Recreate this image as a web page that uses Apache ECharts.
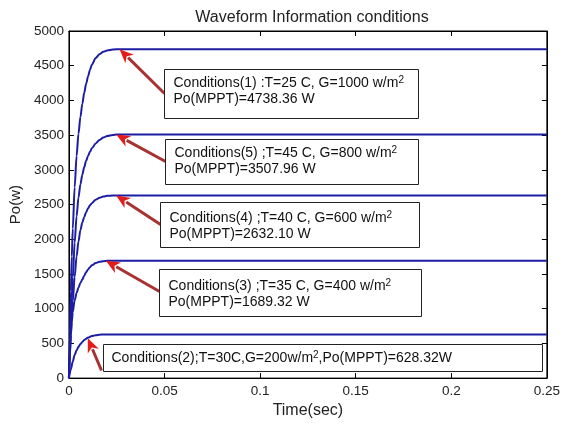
<!DOCTYPE html>
<html><head><meta charset="utf-8">
<script src="https://cdn.jsdelivr.net/npm/echarts@6/dist/echarts.min.js"></script>
<style>html,body{margin:0;padding:0;background:#fff}#c{width:563px;height:424px}</style>
</head><body><div id="c"></div>
<script>
// ---- data ----
const titleText = 'Waveform Information conditions';
const xName = 'Time(sec)';
const yName = 'Po(w)';
const xTicks = [0, 0.05, 0.1, 0.15, 0.2, 0.25];
const yTicks = [0, 500, 1000, 1500, 2000, 2500, 3000, 3500, 4000, 4500, 5000];

// Condition 1 : T=25C, G=1000
const t1 = [0, 0.0005, 0.001, 0.0015, 0.002, 0.003, 0.004, 0.005, 0.006, 0.007, 0.008, 0.009, 0.010, 0.011, 0.012, 0.014, 0.016, 0.018, 0.020, 0.023, 0.026, 0.25];
const p1 = [0, 650, 1250, 1750, 2150, 2750, 3200, 3520, 3760, 3950, 4110, 4240, 4345, 4440, 4515, 4610, 4665, 4700, 4720, 4733, 4738.36, 4738.36];
// Condition 5 : T=45C, G=800
const t5 = [0, 0.0005, 0.001, 0.0015, 0.002, 0.003, 0.004, 0.005, 0.006, 0.007, 0.008, 0.009, 0.010, 0.011, 0.012, 0.014, 0.016, 0.018, 0.020, 0.023, 0.025, 0.25];
const p5 = [0, 420, 800, 1150, 1450, 1950, 2330, 2600, 2790, 2930, 3040, 3130, 3200, 3260, 3310, 3380, 3430, 3465, 3488, 3503, 3507.96, 3507.96];
// Condition 4 : T=40C, G=600
const t4 = [0, 0.0005, 0.001, 0.0015, 0.002, 0.003, 0.004, 0.005, 0.006, 0.007, 0.008, 0.009, 0.010, 0.011, 0.012, 0.014, 0.016, 0.018, 0.020, 0.023, 0.025, 0.25];
const p4 = [0, 330, 630, 890, 1110, 1460, 1750, 1970, 2130, 2240, 2320, 2390, 2445, 2490, 2520, 2570, 2598, 2615, 2625, 2631, 2632.10, 2632.10];
// Condition 3 : T=35C, G=400
const t3 = [0, 0.0005, 0.001, 0.0015, 0.002, 0.003, 0.004, 0.005, 0.006, 0.007, 0.008, 0.009, 0.010, 0.011, 0.012, 0.014, 0.016, 0.018, 0.020, 0.25];
const p3 = [0, 360, 620, 810, 950, 1120, 1225, 1305, 1370, 1420, 1475, 1525, 1565, 1598, 1625, 1658, 1676, 1685, 1689.32, 1689.32];
// Condition 2 : T=30C, G=200
const t2 = [0, 0.001, 0.002, 0.003, 0.004, 0.005, 0.006, 0.007, 0.008, 0.009, 0.010, 0.012, 0.014, 0.016, 0.018, 0.25];
const p2 = [0, 125, 240, 334, 400, 450, 490, 520, 548, 568, 584, 605, 618, 625, 628.32, 628.32];

// annotation texts
const annoLine1 = [
  'Conditions(1) :T=25 C, G=1000 w/m',
  'Conditions(5) ;T=45 C, G=800 w/m',
  'Conditions(4) ;T=40 C, G=600 w/m',
  'Conditions(3) ;T=35 C, G=400 w/m',
  'Conditions(2);T=30C,G=200w/m'
];
const annoLine2 = [
  'Po(MPPT)=4738.36 W',
  'Po(MPPT)=3507.96 W',
  'Po(MPPT)=2632.10 W',
  'Po(MPPT)=1689.32 W',
  ',Po(MPPT)=628.32W'
];
// arrow tips (data coordinates, on the curves)
const tipT = [0.0265, 0.0247, 0.0247, 0.0193, 0.0099];
const tipP = [4738.36, 3507.96, 2632.10, 1689.32, 575];

// ---- layout (annotation boxes: top-left in data coords, size in px) ----
const boxLayout = [
  {t: 0.0496, p: 4456, w: 254, h: 49, tx: 9, ty: 6, tailDx: 0, tailDy: 24, single: false},
  {t: 0.0501, p: 3438, w: 253, h: 45, tx: 9, ty: 6, tailDx: 0, tailDy: 22, single: false},
  {t: 0.0475, p: 2536, w: 259, h: 45, tx: 9, ty: 8, tailDx: 0, tailDy: 22, single: false},
  {t: 0.0470, p: 1576, w: 262, h: 47, tx: 9, ty: 9, tailDx: 0, tailDy: 22, single: false},
  {t: 0.0177, p: 487,  w: 439, h: 27, tx: 8, ty: 6, tailDx: -2, tailDy: 26, single: true}
];

const FONT = 'Liberation Sans, Arial, sans-serif';
const LINE_COLOR = '#1c1ca4';
const TEXT_COLOR = '#222';

const chart = echarts.init(document.getElementById('c'), null, {renderer: 'canvas'});

function zip(t, p) { return t.map((v, i) => [v, p[i]]); }
function mkSeries(t, p) {
  return {
    type: 'line', data: zip(t, p), showSymbol: false, smooth: 0.3, smoothMonotone: 'x',
    lineStyle: {color: LINE_COLOR, width: 2}, itemStyle: {color: LINE_COLOR},
    animation: false, silent: true
  };
}

const axisCommon = {
  axisLine: {show: true, onZero: false, lineStyle: {color: '#000', width: 1}},
  axisTick: {show: true, inside: true, length: 5, lineStyle: {color: '#000'}},
  splitLine: {show: false}
};

chart.setOption({
  backgroundColor: '#fff',
  animation: false,
  title: {
    text: titleText, left: 307, top: 5, textAlign: 'center',
    textStyle: {fontFamily: FONT, fontSize: 16, fontWeight: 'normal', color: TEXT_COLOR}
  },
  grid: {left: 68, right: 16, top: 31, bottom: 44, show: true, borderColor: '#000', borderWidth: 1, backgroundColor: '#fff'},
  xAxis: [
    Object.assign({}, axisCommon, {
      type: 'value', min: xTicks[0], max: xTicks[xTicks.length - 1], interval: xTicks[1] - xTicks[0], position: 'bottom',
      axisLabel: {margin: 6, color: TEXT_COLOR, fontSize: 13.5, fontFamily: FONT, formatter: v => String(+v.toFixed(2))},
      name: xName, nameLocation: 'middle', nameGap: 23,
      nameTextStyle: {fontFamily: FONT, fontSize: 16, color: TEXT_COLOR}
    }),
    Object.assign({}, axisCommon, {
      type: 'value', min: xTicks[0], max: xTicks[xTicks.length - 1], interval: xTicks[1] - xTicks[0], position: 'top',
      axisLabel: {show: false}
    })
  ],
  yAxis: [
    Object.assign({}, axisCommon, {
      type: 'value', min: yTicks[0], max: yTicks[yTicks.length - 1], interval: yTicks[1] - yTicks[0], position: 'left',
      axisLabel: {margin: 5, color: TEXT_COLOR, fontSize: 13.5, fontFamily: FONT, formatter: v => String(v)},
      name: yName, nameLocation: 'middle', nameGap: 42,
      nameTextStyle: {fontFamily: FONT, fontSize: 15, color: TEXT_COLOR}
    }),
    Object.assign({}, axisCommon, {
      type: 'value', min: yTicks[0], max: yTicks[yTicks.length - 1], interval: yTicks[1] - yTicks[0], position: 'right',
      axisLabel: {show: false}
    })
  ],
  series: [mkSeries(t1, p1), mkSeries(t5, p5), mkSeries(t4, p4), mkSeries(t3, p3), mkSeries(t2, p2)]
});

// ---- annotations ----
const graphics = [];
const rich = {
  a: {fontFamily: FONT, fontSize: 14, color: '#111', lineHeight: 16},
  s: {fontFamily: FONT, fontSize: 10, color: '#111', verticalAlign: 'top'}
};
boxLayout.forEach((b, i) => {
  const tl = chart.convertToPixel({gridIndex: 0}, [b.t, b.p]);
  const x = Math.round(tl[0]) + 0.5, y = Math.round(tl[1]) + 0.5;
  graphics.push({
    type: 'rect', shape: {x: x, y: y, width: b.w, height: b.h},
    style: {fill: '#fff', stroke: '#222', lineWidth: 1}, z: 10
  });
  const txt = b.single
    ? '{a|' + annoLine1[i] + '}{s|2}{a|' + annoLine2[i] + '}'
    : '{a|' + annoLine1[i] + '}{s|2}\n{a|' + annoLine2[i] + '}';
  graphics.push({
    type: 'text', x: x + b.tx, y: y + b.ty, z: 11,
    style: {text: txt, rich: rich, fill: '#111', font: '14px ' + FONT}
  });
  // arrow
  const tip = chart.convertToPixel({gridIndex: 0}, [tipT[i], tipP[i]]);
  const tail = [x + b.tailDx, y + b.tailDy];
  const dx = tip[0] - tail[0], dy = tip[1] - tail[1];
  const len = Math.sqrt(dx * dx + dy * dy);
  const ux = dx / len, uy = dy / len;
  const headLen = 14, headW = 6;
  const base = [tip[0] - ux * headLen, tip[1] - uy * headLen];
  graphics.push({
    type: 'line', shape: {x1: tail[0], y1: tail[1], x2: base[0] + ux * 2, y2: base[1] + uy * 2},
    style: {stroke: '#a83232', lineWidth: 3}, z: 9
  });
  graphics.push({
    type: 'polygon', z: 9,
    shape: {points: [
      [tip[0], tip[1]],
      [base[0] - uy * headW, base[1] + ux * headW],
      [base[0] + ux * 4, base[1] + uy * 4],
      [base[0] + uy * headW, base[1] - ux * headW]
    ]},
    style: {fill: '#e41b1b'}
  });
});
chart.setOption({graphic: graphics});
</script>
</body></html>
